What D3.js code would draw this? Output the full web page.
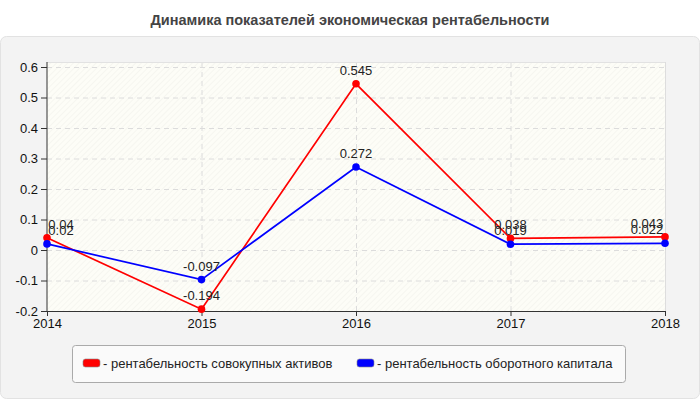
<!DOCTYPE html>
<html lang="ru">
  <head>
    <meta charset="utf-8" />
    <title>Динамика показателей</title>
    <style>
      body { margin: 0; background: #fff; }
      text { font-family: "Liberation Sans", Arial, sans-serif; }
      .grid line { stroke: #dcdcdc; stroke-dasharray: 5,4; }
      .grid path { display: none; }
    </style>
  </head>
  <body>
    <div id="vis"></div>
    <script src="https://d3js.org/d3.v7.min.js"></script>
    <script>
      const years = ["2014", "2015", "2016", "2017", "2018"];
      const assets = [0.04, -0.194, 0.545, 0.038, 0.043];
      const capital = [0.02, -0.097, 0.272, 0.019, 0.022];
      const yTicks = [-0.2, -0.1, 0, 0.1, 0.2, 0.3, 0.4, 0.5, 0.6];
      const seriesNames = ["- рентабельность совокупных активов", "- рентабельность оборотного капитала"];
      const seriesColors = ["#ff0000", "#0000ff"];

      const W = 700, H = 400;
      const svg = d3.select("#vis").append("svg").attr("width", W).attr("height", H);

      const defs = svg.append("defs");
      const pat = defs.append("pattern").attr("id", "hatch").attr("patternUnits", "userSpaceOnUse")
        .attr("width", 4).attr("height", 4).attr("patternTransform", "rotate(45)");
      pat.append("rect").attr("width", 4).attr("height", 4).attr("fill", "#fdfdf7");
      pat.append("line").attr("x1", 0).attr("y1", 0).attr("x2", 0).attr("y2", 4)
        .attr("stroke", "#f0f0ea").attr("stroke-width", 1);

      svg.append("text").attr("x", 350).attr("y", 25).attr("text-anchor", "middle")
        .attr("font-size", 14.5).attr("font-weight", "bold").attr("fill", "#444")
        .text("Динамика показателей экономическая рентабельности");

      svg.append("rect").attr("x", 0.5).attr("y", 36.5).attr("width", 699).attr("height", 362)
        .attr("rx", 6).attr("fill", "#f3f3f3").attr("stroke", "#e2e2e2");

      const x = d3.scalePoint().domain(years).range([47, 665]);
      const y = d3.scaleLinear().domain([-0.2, 0.6]).range([311, 67]);

      svg.append("rect").attr("x", 47).attr("y", 62).attr("width", 618).attr("height", 249)
        .attr("fill", "url(#hatch)");

      svg.append("g").attr("class", "grid").attr("transform", "translate(47,0)")
        .call(d3.axisLeft(y).tickValues(yTicks.slice(1)).tickSize(-618).tickFormat(""));
      svg.append("g").attr("class", "grid").attr("transform", "translate(0,311)")
        .call(d3.axisBottom(x).tickValues(years.slice(1, 4)).tickSize(-249).tickFormat(""));
      svg.append("line").attr("x1", 665.5).attr("x2", 665.5).attr("y1", 62).attr("y2", 311).attr("stroke", "#ddd");
      svg.append("line").attr("x1", 47).attr("x2", 665).attr("y1", 62.5).attr("y2", 62.5).attr("stroke", "#e2e2e2");

      const yAxis = svg.append("g").attr("transform", "translate(47,0)")
        .call(d3.axisLeft(y).tickValues(yTicks).tickSize(6).tickSizeOuter(0).tickFormat(d => String(+d.toFixed(1))));
      yAxis.select(".domain").attr("d", "M0,62V311").attr("stroke", "#333");
      yAxis.selectAll(".tick line").attr("stroke", "#333");
      yAxis.selectAll("text").attr("font-size", 13).attr("fill", "#111")
        .attr("font-family", "'Liberation Sans', Arial, sans-serif").attr("x", -9);

      const xAxis = svg.append("g").attr("transform", "translate(0,311)")
        .call(d3.axisBottom(x).tickSize(5).tickSizeOuter(0));
      xAxis.select(".domain").attr("stroke", "#333");
      xAxis.selectAll(".tick line").attr("stroke", "#333");
      xAxis.selectAll("text").attr("font-size", 13).attr("fill", "#111")
        .attr("font-family", "'Liberation Sans', Arial, sans-serif").attr("y", 7).attr("dy", "0.8em");

      const line = d3.line().x((d, i) => x(years[i])).y(d => y(d));
      [assets, capital].forEach((vals, k) => {
        const g = svg.append("g");
        g.append("path").attr("d", line(vals)).attr("fill", "none")
          .attr("stroke", seriesColors[k]).attr("stroke-width", 1.7);
        g.selectAll("circle").data(vals).join("circle")
          .attr("cx", (d, i) => x(years[i])).attr("cy", d => y(d)).attr("r", 3.8)
          .attr("fill", seriesColors[k]);
      });
      [assets, capital].forEach((vals) => {
        svg.append("g").selectAll("text").data(vals).join("text")
          .attr("x", (d, i) => x(years[i]) + (i === 0 ? 14 : i === 4 ? -18 : 0))
          .attr("y", d => y(d) - 9)
          .attr("text-anchor", "middle").attr("font-size", 13).attr("fill", "#222")
          .text(d => String(d));
      });

      const lg = svg.append("g");
      lg.append("rect").attr("x", 72.5).attr("y", 345.5).attr("width", 553).attr("height", 37)
        .attr("rx", 3).attr("fill", "#fafafa").attr("stroke", "#aaa");
      const lx = [83, 357];
      seriesNames.forEach((n, k) => {
        lg.append("rect").attr("x", lx[k]).attr("y", 359).attr("width", 17).attr("height", 8)
          .attr("rx", 2.5).attr("fill", seriesColors[k]).attr("stroke", "#888").attr("stroke-width", 0.6);
        lg.append("text").attr("x", lx[k] + 20).attr("y", 367.5).attr("font-size", 13).attr("fill", "#222")
          .text(n);
      });
    </script>
  </body>
</html>
